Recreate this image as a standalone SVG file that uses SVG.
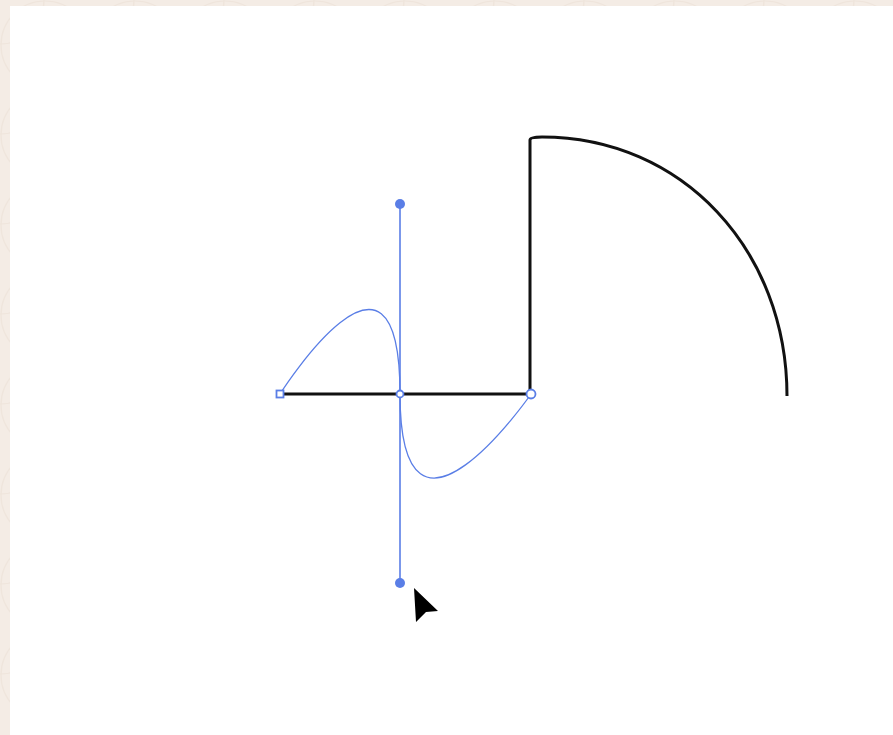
<svg xmlns="http://www.w3.org/2000/svg" width="893" height="735" viewBox="0 0 893 735">
  <defs>
    <pattern id="bgpat" width="90" height="90" patternUnits="userSpaceOnUse">
      <rect width="90" height="90" fill="#f4ece5"/>
      <circle cx="45" cy="45" r="44" fill="none" stroke="#efe5dc" stroke-width="1.2"/>
      <circle cx="0" cy="0" r="44" fill="none" stroke="#efe5dc" stroke-width="1.2"/>
      <circle cx="90" cy="90" r="44" fill="none" stroke="#efe5dc" stroke-width="1.2"/>
    </pattern>
    <style>
      .shape { fill: none; stroke: #111; stroke-width: 3; stroke-linejoin: round; }
      .handle { fill: none; stroke: #5a7ee6; stroke-width: 1.6; }
      .curve { fill: none; stroke: #5a7ee6; stroke-width: 1.3; }
      .dot { fill: #5a7ee6; }
      .anchor { fill: #fff; stroke: #5a7ee6; stroke-width: 1.8; }
    </style>
  </defs>
  <rect x="0" y="0" width="893" height="735" fill="url(#bgpat)"/>
  <rect x="10" y="6" width="883" height="729" fill="#ffffff"/>

  <g id="shape">
    <path class="shape" d="M280,394 L530,394 L530,140 Q530,137 542,137 C 682,137 787,250 787,396"/>
  </g>

  <g id="connectors">
    <line class="handle" x1="400" y1="204" x2="400" y2="583"/>
    <path class="curve" d="M280,394 C280,394 400,204 400,394 C400,583 531,394 531,394"/>
  </g>

  <g id="handle-top"><circle class="dot" cx="400" cy="204" r="5"/></g>
  <g id="handle-bottom"><circle class="dot" cx="400" cy="583" r="5"/></g>
  <g id="anchor-left"><rect class="anchor" x="276.5" y="390.5" width="7" height="7"/></g>
  <g id="anchor-mid"><circle class="anchor" cx="400" cy="394" r="3.5"/></g>
  <g id="anchor-right"><circle class="anchor" cx="531" cy="394" r="4.5" stroke-width="2.2"/></g>

  <g id="cursor">
    <polygon points="414,588 438,611 426,612 416,622" fill="#000"/>
  </g>
</svg>
